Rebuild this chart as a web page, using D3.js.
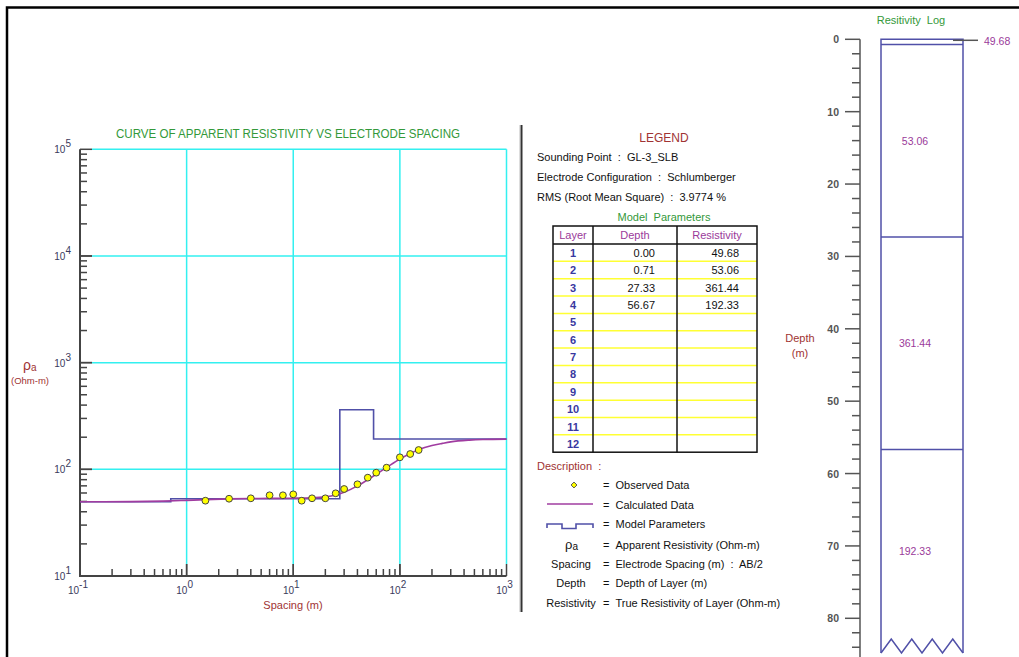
<!DOCTYPE html>
<html>
<head>
<meta charset="utf-8">
<script src="https://cdn.jsdelivr.net/npm/d3@7"></script>
<style>
  body { margin: 0; background: #fff; }
  svg text { font-family: "Liberation Sans", Arial, sans-serif; white-space: pre; }
</style>
</head>
<body>
<div id="chart"></div>
<script>
// observed sounding data (AB/2 in m, apparent resistivity in ohm-m)
const spacing = [1.5, 2.5, 4, 6, 8, 10, 12, 15, 20, 25, 30, 40, 50, 60, 75, 100, 125, 150];
const observed = [50.8, 53.0, 53.5, 57.1, 57.1, 58.3, 50.8, 53.5, 53.5, 59.6, 65.4, 72.4, 83.5, 93.0, 103.6, 129.6, 139.2, 151.7];

// calculated curve
const calcSpacing = [0.1, 0.3, 0.6, 1, 1.5, 2.5, 4, 6, 10, 15, 20, 25, 30, 40, 50, 60, 75, 100, 125, 150, 200, 250, 300, 450, 600, 1000];
const calcRho = [49.7, 49.8, 50.3, 51.2, 52.0, 52.8, 53.2, 53.4, 53.6, 54.0, 55.2, 57.5, 61, 70, 80, 90, 104, 125, 141, 153, 167, 175, 181, 188, 190.5, 192];

// model parameters
const layers = [1, 2, 3, 4];
const depths = [0.00, 0.71, 27.33, 56.67];
const resistivity = [49.68, 53.06, 361.44, 192.33];
const tableRowCount = 12;

const xTicks = [0.1, 1, 10, 100, 1000];
const yTicks = [10, 100, 1000, 10000, 100000];
const depthTicks = [0, 10, 20, 30, 40, 50, 60, 70, 80];

const W = 1019, H = 657;
const svg = d3.select("#chart").append("svg")
  .attr("width", W).attr("height", H);

svg.append("rect").attr("width", W).attr("height", H).attr("fill", "#fff");

// outer frame
svg.append("path")
  .attr("d", `M7,${H} V7.5 H${W}`)
  .attr("fill", "none").attr("stroke", "#000").attr("stroke-width", 2.5);

// ---------- sounding curve ----------
const x = d3.scaleLog().domain([0.1, 1000]).range([80, 506.5]);
const y = d3.scaleLog().domain([10, 100000]).range([576, 149.3]);

const axisColor = "#444";
const red = "#a03333";
const green = "#33993a";
const purple = "#a03ca0";
const blue = "#5050a8";

// grid
const grid = svg.append("g").attr("stroke", "#33f0f0").attr("stroke-width", 1.5);
xTicks.slice(1).forEach(t => {
  grid.append("line").attr("x1", x(t)).attr("x2", x(t))
    .attr("y1", y(100000)).attr("y2", y(10) - 12);
});
yTicks.slice(1).forEach(t => {
  grid.append("line").attr("x1", x(0.1) + 12).attr("x2", x(1000))
    .attr("y1", y(t)).attr("y2", y(t));
});

// axes
const axes = svg.append("g").attr("stroke", axisColor);
axes.append("path")
  .attr("d", `M${x(0.1)},${y(100000)} V${y(10)} H${x(1000)}`)
  .attr("fill", "none").attr("stroke-width", 2);

for (let d = 0.1; d < 1000; d *= 10) {
  for (let k = 1; k <= 10; k++) {
    const v = d * k;
    const len = (k === 1 || k === 10) ? 12 : 7;
    axes.append("line").attr("x1", x(v)).attr("x2", x(v))
      .attr("y1", y(10)).attr("y2", y(10) - len).attr("stroke-width", 1.5);
  }
}
for (let d = 10; d < 100000; d *= 10) {
  for (let k = 1; k <= 10; k++) {
    const v = d * k;
    const len = (k === 1 || k === 10) ? 12 : 7;
    axes.append("line").attr("x1", x(0.1)).attr("x2", x(0.1) + len)
      .attr("y1", y(v)).attr("y2", y(v)).attr("stroke-width", 1.5);
  }
}

// tick labels
const tickColor = "#3a3a5c";
yTicks.forEach(t => {
  const tx = svg.append("text")
    .attr("x", 71).attr("y", y(t) + 4)
    .attr("text-anchor", "end").attr("fill", tickColor)
    .attr("font-size", 10);
  tx.append("tspan").text("10");
  tx.append("tspan").attr("dy", -6).attr("font-size", 10).text(Math.round(Math.log10(t)));
});
xTicks.forEach(t => {
  const tx = svg.append("text")
    .attr("x", x(t) - 2).attr("y", 594)
    .attr("text-anchor", "middle").attr("fill", tickColor)
    .attr("font-size", 10);
  tx.append("tspan").text("10");
  tx.append("tspan").attr("dy", -6).attr("font-size", 10).text(Math.round(Math.log10(t)));
});

// title and axis labels
svg.append("text")
  .attr("x", 288).attr("y", 137.5)
  .attr("text-anchor", "middle").attr("fill", green)
  .attr("font-size", 12)
  .attr("textLength", 344).attr("lengthAdjust", "spacingAndGlyphs")
  .text("CURVE OF APPARENT RESISTIVITY VS ELECTRODE SPACING");

const rhoLabel = svg.append("text")
  .attr("x", 23).attr("y", 370).attr("fill", red).attr("font-size", 14);
rhoLabel.append("tspan").text("ρ");
rhoLabel.append("tspan").attr("font-size", 10).attr("dy", 1).text("a");
svg.append("text")
  .attr("x", 30).attr("y", 384)
  .attr("text-anchor", "middle").attr("fill", red).attr("font-size", 9.5)
  .text("(Ohm-m)");

svg.append("text")
  .attr("x", 293).attr("y", 609)
  .attr("text-anchor", "middle").attr("fill", red).attr("font-size", 11)
  .text("Spacing (m)");

// model step curve
const modelPts = depths.map((d, i) => [Math.max(d, 0.1), resistivity[i]]);
modelPts.push([1000, resistivity[resistivity.length - 1]]);
svg.append("path")
  .datum(modelPts)
  .attr("fill", "none").attr("stroke", blue).attr("stroke-width", 1.6)
  .attr("d", d3.line().x(d => x(d[0])).y(d => y(d[1])).curve(d3.curveStepAfter));

// calculated curve
svg.append("path")
  .datum(calcSpacing.map((s, i) => [s, calcRho[i]]))
  .attr("fill", "none").attr("stroke", purple).attr("stroke-width", 1.6)
  .attr("d", d3.line().x(d => x(d[0])).y(d => y(d[1])).curve(d3.curveMonotoneX));

// observed data
svg.selectAll(".obs")
  .data(spacing.map((s, i) => [s, observed[i]]))
  .enter()
  .append("circle")
    .attr("class", "obs")
    .attr("cx", d => x(d[0]))
    .attr("cy", d => y(d[1]))
    .attr("r", 3.4)
    .attr("fill", "#ffff00")
    .attr("stroke", "#444")
    .attr("stroke-width", 1);

// separator
svg.append("line")
  .attr("x1", 519.5).attr("x2", 519.5).attr("y1", 125).attr("y2", 612)
  .attr("stroke", "#ddd").attr("stroke-width", 1);
svg.append("line")
  .attr("x1", 521.5).attr("x2", 521.5).attr("y1", 125).attr("y2", 612)
  .attr("stroke", "#333").attr("stroke-width", 2);

// ---------- legend ----------
const lg = svg.append("g").attr("font-size", 11);
lg.append("text").attr("x", 664).attr("y", 142).attr("text-anchor", "middle")
  .attr("fill", red).attr("font-size", 12).text("LEGEND");
lg.append("text").attr("x", 537).attr("y", 161).attr("fill", "#111").text("Sounding Point  :  GL-3_SLB");
lg.append("text").attr("x", 537).attr("y", 181).attr("fill", "#111").text("Electrode Configuration  :  Schlumberger");
lg.append("text").attr("x", 537).attr("y", 201).attr("fill", "#111").text("RMS (Root Mean Square)  :  3.9774 %");
lg.append("text").attr("x", 664).attr("y", 220.5).attr("text-anchor", "middle")
  .attr("fill", green).text("Model  Parameters");

// table
const tLeft = 553, tRight = 757, c1 = 593, c2 = 677;
const tTop = 226, headH = 18, rowH = 17.35;
const rowY = d3.scaleLinear().domain([0, tableRowCount]).range([tTop + headH, tTop + headH + rowH * tableRowCount]);
const tBottom = rowY(tableRowCount);

for (let i = 1; i < tableRowCount; i++) {
  lg.append("line").attr("x1", tLeft).attr("x2", tRight)
    .attr("y1", rowY(i)).attr("y2", rowY(i))
    .attr("stroke", "#ffff33").attr("stroke-width", 1.5);
}
const tb = lg.append("g").attr("stroke", "#111").attr("stroke-width", 1.5).attr("fill", "none");
tb.append("rect").attr("x", tLeft).attr("y", tTop).attr("width", tRight - tLeft).attr("height", tBottom - tTop);
tb.append("line").attr("x1", tLeft).attr("x2", tRight).attr("y1", tTop + headH).attr("y2", tTop + headH);
tb.append("line").attr("x1", c1).attr("x2", c1).attr("y1", tTop).attr("y2", tBottom);
tb.append("line").attr("x1", c2).attr("x2", c2).attr("y1", tTop).attr("y2", tBottom);

[["Layer", (tLeft + c1) / 2], ["Depth", (c1 + c2) / 2], ["Resistivity", (c2 + tRight) / 2]].forEach(h => {
  lg.append("text").attr("x", h[1]).attr("y", tTop + 13).attr("text-anchor", "middle")
    .attr("fill", "#9a3a9a").text(h[0]);
});
d3.range(1, tableRowCount + 1).forEach((n, i) => {
  lg.append("text").attr("x", (tLeft + c1) / 2).attr("y", rowY(i) + 13)
    .attr("text-anchor", "middle").attr("fill", "#3838a0").attr("font-weight", "bold").text(n);
});
layers.forEach((l, i) => {
  lg.append("text").attr("x", 655).attr("y", rowY(i) + 13)
    .attr("text-anchor", "end").attr("fill", "#111").text(depths[i].toFixed(2));
  lg.append("text").attr("x", 739).attr("y", rowY(i) + 13)
    .attr("text-anchor", "end").attr("fill", "#111").text(resistivity[i].toFixed(2));
});

// description
lg.append("text").attr("x", 537).attr("y", 470).attr("fill", red).text("Description  :");
const descItems = [
  ["", "Observed Data", 489],
  ["", "Calculated Data", 508.5],
  ["", "Model Parameters", 528],
  ["", "Apparent Resistivity (Ohm-m)", 548.5],
  ["Spacing", "Electrode Spacing (m)  :  AB/2", 567.5],
  ["Depth", "Depth of Layer (m)", 587],
  ["Resistivity", "True Resistivity of Layer (Ohm-m)", 607]
];
descItems.forEach(d => {
  if (d[0]) lg.append("text").attr("x", 571).attr("y", d[2]).attr("text-anchor", "middle")
    .attr("fill", "#111").text(d[0]);
  lg.append("text").attr("x", 603).attr("y", d[2]).attr("fill", "#111").text("=");
  lg.append("text").attr("x", 615.5).attr("y", d[2]).attr("fill", "#111").text(d[1]);
});
lg.append("path").attr("d", d3.symbol(d3.symbolDiamond2, 22)())
  .attr("transform", "translate(574,485)")
  .attr("fill", "#ffff00").attr("stroke", "#555").attr("stroke-width", 1);
lg.append("line").attr("x1", 547).attr("x2", 593).attr("y1", 504).attr("y2", 504)
  .attr("stroke", purple).attr("stroke-width", 1.5);
lg.append("path").attr("d", "M547,528 V524 H562 V528.5 H576 V524 H593 V528")
  .attr("fill", "none").attr("stroke", blue).attr("stroke-width", 1.6);
const rhoLg = lg.append("text").attr("x", 565).attr("y", 549).attr("fill", "#111").attr("font-size", 13);
rhoLg.append("tspan").text("ρ");
rhoLg.append("tspan").attr("font-size", 10).attr("dy", 1).text("a");

// ---------- resistivity log ----------
const depth = d3.scaleLinear().domain([0, 80]).range([39.3, 618.3]);
const axX = 860, colL = 881, colR = 963, colBottom = 653;

svg.append("text").attr("x", 911).attr("y", 24).attr("text-anchor", "middle")
  .attr("fill", green).attr("font-size", 11).text("Resitivity  Log");

const dax = svg.append("g").attr("stroke", "#555").attr("stroke-width", 1.5);
dax.append("line").attr("x1", axX).attr("x2", axX).attr("y1", depth(0)).attr("y2", H);
for (let d = 0; d <= 86; d += 2) {
  const major = d % 10 === 0;
  dax.append("line").attr("x1", major ? 845 : 852).attr("x2", axX)
    .attr("y1", depth(d)).attr("y2", depth(d));
}
depthTicks.forEach(t => {
  svg.append("text").attr("x", 839).attr("y", depth(t) + 4).attr("text-anchor", "end")
    .attr("fill", "#555").attr("font-size", 10.5).attr("font-weight", "bold").text(t);
});
svg.append("text").attr("x", 800).attr("y", 342).attr("text-anchor", "middle")
  .attr("fill", red).attr("font-size", 11).text("Depth");
svg.append("text").attr("x", 800).attr("y", 357).attr("text-anchor", "middle")
  .attr("fill", red).attr("font-size", 11).text("(m)");

// column with zigzag bottom
const zig = d3.range(9).map(i => [colL + (colR - colL) * i / 8, i % 2 === 0 ? colBottom : colBottom - 14]);
const colPath = d3.path();
colPath.moveTo(colL, colBottom);
colPath.lineTo(colL, depth(0));
colPath.lineTo(colR, depth(0));
colPath.lineTo(colR, colBottom);
svg.append("path").attr("d", colPath.toString())
  .attr("fill", "none").attr("stroke", blue).attr("stroke-width", 1.5);
svg.append("path").attr("d", d3.line()(zig))
  .attr("fill", "none").attr("stroke", blue).attr("stroke-width", 1.5);
depths.slice(1).forEach(d => {
  svg.append("line").attr("x1", colL).attr("x2", colR)
    .attr("y1", depth(d)).attr("y2", depth(d))
    .attr("stroke", blue).attr("stroke-width", 1.5);
});

// layer labels
const bottomDepth = depth.invert(colBottom);
resistivity.forEach((r, i) => {
  if (i === 0) {
    svg.append("line").attr("x1", 953).attr("x2", 978).attr("y1", depth(0) + 1).attr("y2", depth(0) + 1)
      .attr("stroke", "#555").attr("stroke-width", 1.5);
    svg.append("text").attr("x", 984).attr("y", 45).attr("fill", "#9a3a9a")
      .attr("font-size", 10.5).text(r.toFixed(2));
    return;
  }
  const top = depths[i];
  const bot = i + 1 < depths.length ? depths[i + 1] : bottomDepth;
  svg.append("text").attr("x", 915).attr("y", depth((top + bot) / 2) + 4)
    .attr("text-anchor", "middle").attr("fill", "#9a3a9a").attr("font-size", 10.5)
    .text(r.toFixed(2));
});
</script>
</body>
</html>
